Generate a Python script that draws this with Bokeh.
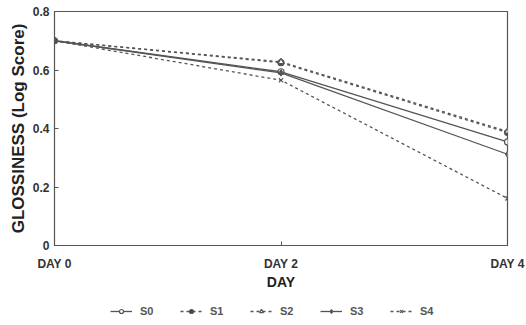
from bokeh.plotting import figure
from bokeh.layouts import column
from bokeh.models import FixedTicker, Legend, LegendItem, ColumnDataSource
from bokeh.embed import file_html
from bokeh.resources import INLINE

days = [0, 2, 4]
day_labels = ["DAY 0", "DAY 2", "DAY 4"]
y_ticks = [0, 0.2, 0.4, 0.6, 0.8]
y_tick_labels = ["0", "0.2", "0.4", "0.6", "0.8"]

series_names = ["S0", "S1", "S2", "S3", "S4"]
s0 = [0.70, 0.594, 0.354]
s1 = [0.70, 0.625, 0.386]
s2 = [0.70, 0.628, 0.390]
s3 = [0.70, 0.590, 0.312]
s4 = [0.70, 0.565, 0.161]
values = [s0, s1, s2, s3, s4]

markers = ["circle", "circle", "triangle", "diamond_cross", "x"]
dashes = ["solid", "3 3", "3 3", "solid", "3 3"]
fills = ["white", "#444444", "white", "white", "#444444"]

col = "#555555"
txt = "#333333"

p = figure(frame_width=453, frame_height=234, x_range=(0, 4), y_range=(0, 0.8),
           output_backend="svg", toolbar_location=None,
           min_border_left=54, min_border_right=19, min_border_top=11,
           min_border_bottom=46)
p.background_fill_color = "white"
p.border_fill_color = "white"
p.grid.visible = False
p.outline_line_color = col
p.outline_line_width = 1.2

sources = []
for vals, m, d, f in zip(values, markers, dashes, fills):
    src = ColumnDataSource(dict(x=days, y=vals))
    sources.append(src)
    p.line("x", "y", source=src, line_color=col, line_width=1.3, line_dash=d)
    p.scatter("x", "y", source=src, marker=m, size=6, line_color=col,
              fill_color=f, line_width=1.2)

p.xaxis.ticker = FixedTicker(ticks=days)
p.xaxis.major_label_overrides = {d: l for d, l in zip(days, day_labels)}
p.xaxis.axis_label = "DAY"
p.yaxis.ticker = FixedTicker(ticks=y_ticks)
p.yaxis.major_label_overrides = {t: l for t, l in zip(y_ticks, y_tick_labels)}
p.yaxis.axis_label = "GLOSSINESS (Log Score)"

for ax in (p.xaxis, p.yaxis):
    ax.axis_line_color = col
    ax.major_tick_line_color = col
    ax.minor_tick_line_color = None
    ax.major_tick_in = 4
    ax.major_tick_out = 0
    ax.major_label_text_font = "Liberation Sans"
    ax.major_label_text_font_style = "bold"
    ax.major_label_text_font_size = "12px"
    ax.major_label_text_color = txt
    ax.axis_label_text_font = "Liberation Sans"
    ax.axis_label_text_font_style = "bold"
    ax.axis_label_text_color = "#222222"
p.xaxis.axis_label_text_font_size = "14px"
p.yaxis.axis_label_text_font_size = "17px"
p.xaxis.major_label_standoff = 11
p.xaxis.axis_label_standoff = 0
p.yaxis.major_label_standoff = 5
p.yaxis.axis_label_standoff = 2

# legend strip below the chart (data lies outside this strip's x range)
q = figure(width=526, height=34, x_range=(100, 101), y_range=(0, 1),
           output_backend="svg", toolbar_location=None, min_border=0)
q.axis.visible = False
q.grid.visible = False
q.outline_line_color = None
q.border_fill_color = "white"
items = []
for name, src, m, d, f in zip(series_names, sources, markers, dashes, fills):
    r1 = q.line("x", "y", source=src, line_color=col, line_width=1.3, line_dash=d)
    r2 = q.scatter("x", "y", source=src, marker=m, size=6, line_color=col,
                   fill_color=f, line_width=1.2)
    items.append(LegendItem(label=name, renderers=[r1, r2]))

legend = Legend(items=items, orientation="horizontal", location=(56, 9),
                label_text_font="Liberation Sans", label_text_font_style="bold",
                label_text_font_size="11px", label_text_color="#555555",
                glyph_width=22, glyph_height=10, label_standoff=8,
                spacing=20, padding=2, margin=0,
                border_line_color=None, background_fill_alpha=0)
q.add_layout(legend)

open("out.html", "w").write(file_html(column(p, q, spacing=0), INLINE))
